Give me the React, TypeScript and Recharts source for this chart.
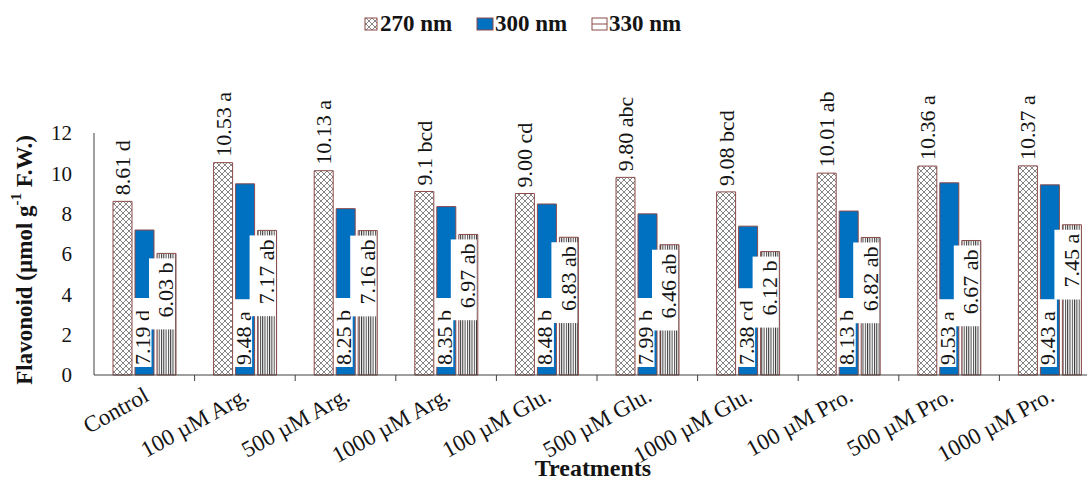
import React from 'react';
import { BarChart, Bar, XAxis, YAxis, LabelList } from 'recharts';

const categories = [
  'Control', '100 µM Arg.', '500 µM Arg.', '1000 µM Arg.', '100 µM Glu.',
  '500 µM Glu.', '1000 µM Glu.', '100 µM Pro.', '500 µM Pro.', '1000 µM Pro.',
];
const nm270 = [8.61, 10.53, 10.13, 9.1, 9.0, 9.8, 9.08, 10.01, 10.36, 10.37];
const nm300 = [7.19, 9.48, 8.25, 8.35, 8.48, 7.99, 7.38, 8.13, 9.53, 9.43];
const nm330 = [6.03, 7.17, 7.16, 6.97, 6.83, 6.46, 6.12, 6.82, 6.67, 7.45];
const lab270 = ['8.61 d', '10.53 a', '10.13 a', '9.1 bcd', '9.00 cd', '9.80 abc', '9.08 bcd', '10.01 ab', '10.36 a', '10.37 a'];
const lab300 = ['7.19 d', '9.48 a', '8.25 b', '8.35 b', '8.48 b', '7.99 b', '7.38 cd', '8.13 b', '9.53 a', '9.43 a'];
const lab330 = ['6.03 b', '7.17 ab', '7.16 ab', '6.97 ab', '6.83 ab', '6.46 ab', '6.12 b', '6.82 ab', '6.67 ab', '7.45 a'];
const yTicks = [0, 2, 4, 6, 8, 10, 12];

const SERIF = '"Liberation Serif", "Times New Roman", serif';
const EDGE = '#8b4b4b';
const BLUE = '#0070c0';
const AXIS = '#404040';
const INK = '#141414';
const LABEL_FS = 22;

const CHART_W = 1100;
const Y_AXIS_W = 94;
const PLOT_BOTTOM = 375;
const BAND = (CHART_W - Y_AXIS_W) / categories.length;

const data = categories.map((name, i) => ({
  name,
  a: nm270[i], b: nm300[i], c: nm330[i],
  ta: lab270[i], tb: lab300[i], tc: lab330[i],
}));

// rough Times widths in em, enough to size the white label boxes
const EM: Record<string, number> = { '.': 0.25, ' ': 0.25, a: 0.444, b: 0.5, c: 0.444, d: 0.5, h: 0.5 };
const textLen = (s: string, fs: number) =>
  s.split('').reduce((sum, ch) => sum + (EM[ch] ?? 0.5), 0) * fs;

const box = (p: any) => {
  const vb = p.viewBox ?? p;
  return {
    x: Number(vb.x ?? p.x),
    y: Number(vb.y ?? p.y),
    w: Number(vb.width ?? p.width),
    h: Number(vb.height ?? p.height),
  };
};

const vText = (x: number, y: number, s: string, anchor: 'start' | 'end') => (
  <text
    x={x} y={y} transform={`rotate(-90 ${x} ${y})`}
    textAnchor={anchor} dominantBaseline="central"
    fontFamily={SERIF} fontSize={LABEL_FS} fill={INK}
  >
    {s}
  </text>
);

const Label270 = (p: any) => {
  const { x, y, w } = box(p);
  return vText(x + w / 2, y - 6, String(p.value), 'start');
};

const Label300 = (p: any) => {
  const { x, y, w, h } = box(p);
  const s = String(p.value);
  const len = textLen(s, LABEL_FS);
  const cx = x + w / 2;
  const ty = y + h - 10;
  return (
    <g>
      <rect x={cx - 11} y={ty - len - 12} width={18} height={len + 14} fill="#fff" />
      {vText(cx - 2, ty, s, 'start')}
    </g>
  );
};

const Label330 = (p: any) => {
  const { x, y, w } = box(p);
  const s = String(p.value);
  const len = textLen(s, LABEL_FS);
  const ty = y + 9;
  return (
    <g>
      <rect x={x - 8} y={y + 5} width={w + 7} height={len + 16} fill="#fff" />
      {vText(x + w / 2 - 0.5, ty, s, 'end')}
    </g>
  );
};

const XTick = (p: any) => {
  const cx = Number(p.x);
  const tx = cx + 6;
  const ty = 400;
  return (
    <g>
      <line x1={cx + BAND / 2} x2={cx + BAND / 2} y1={PLOT_BOTTOM} y2={PLOT_BOTTOM + 6} stroke={AXIS} />
      <text
        x={tx} y={ty} transform={`rotate(-29 ${tx} ${ty})`} textAnchor="end"
        fontFamily={SERIF} fontSize={23} fill={INK}
      >
        {p.payload.value}
      </text>
    </g>
  );
};

const yTitle = () => (
  <text
    x={24} y={260} transform="rotate(-90 24 260)" textAnchor="middle" dominantBaseline="central"
    fontFamily={SERIF} fontSize={23} fontWeight="bold" fill={INK}
  >
    Flavonoid (µmol g<tspan dy={-8} fontSize={15}>-1</tspan><tspan dy={8}> F.W.)</tspan>
  </text>
);

const xTitle = () => (
  <text x={593} y={476} textAnchor="middle" fontFamily={SERIF} fontSize={24} fontWeight="bold" fill={INK}>
    Treatments
  </text>
);

export default function App() {
  return (
    <div style={{ position: 'absolute', left: 0, top: 0, width: 1087, height: 482, overflow: 'hidden', background: '#fff' }}>
      <BarChart
        width={CHART_W}
        height={482}
        data={data}
        margin={{ top: 133, right: 0, left: 0, bottom: 0 }}
        barGap={3}
      >
        <XAxis
          dataKey="name"
          height={107}
          interval={0}
          axisLine={{ stroke: AXIS }}
          tickLine={false}
          tick={XTick}
          label={xTitle}
        />
        <YAxis
          width={Y_AXIS_W}
          domain={[0, 12]}
          ticks={yTicks}
          axisLine={{ stroke: AXIS }}
          tickLine={false}
          tickMargin={16}
          tick={{ fontSize: 21, fill: INK, fontFamily: SERIF }}
          label={yTitle}
        />
        <Bar dataKey="a" fill="url(#p270)" stroke={EDGE} strokeWidth={1} barSize={19} isAnimationActive={false}>
          <LabelList dataKey="ta" content={Label270} />
        </Bar>
        <Bar dataKey="b" fill={BLUE} stroke={EDGE} strokeWidth={1} barSize={19} isAnimationActive={false}>
          <LabelList dataKey="tb" content={Label300} />
        </Bar>
        <Bar dataKey="c" fill="url(#p330)" stroke={EDGE} strokeWidth={1} barSize={19} isAnimationActive={false}>
          <LabelList dataKey="tc" content={Label330} />
        </Bar>
      </BarChart>

      {/* legend drawn by hand, also holds the fill patterns */}
      <svg style={{ position: 'absolute', left: 0, top: 0 }} width={1087} height={48}>
        <defs>
          <pattern id="p270" patternUnits="userSpaceOnUse" width={6} height={6}>
            <rect width={6} height={6} fill="#fff" />
            <path d="M0,0 L6,6 M6,0 L0,6" stroke="#333" strokeWidth={0.6} />
          </pattern>
          <pattern id="p330" patternUnits="userSpaceOnUse" width={2.3} height={4}>
            <rect width={2.3} height={4} fill="#fff" />
            <rect width={1} height={4} fill="#3a3a3a" />
          </pattern>
        </defs>
        <rect x={365} y={18} width={12} height={12} fill="url(#p270)" stroke={EDGE} />
        <text x={380} y={31} fontFamily={SERIF} fontSize={23} fontWeight="bold" fill={INK}>270 nm</text>
        <rect x={477} y={18} width={16} height={12} fill={BLUE} stroke={EDGE} />
        <text x={495} y={31} fontFamily={SERIF} fontSize={23} fontWeight="bold" fill={INK}>300 nm</text>
        <rect x={592} y={18} width={15} height={12} fill="#fff" stroke={EDGE} />
        <line x1={592} x2={607} y1={24} y2={24} stroke={EDGE} />
        <text x={609} y={31} fontFamily={SERIF} fontSize={23} fontWeight="bold" fill={INK}>330 nm</text>
      </svg>
    </div>
  );
}
